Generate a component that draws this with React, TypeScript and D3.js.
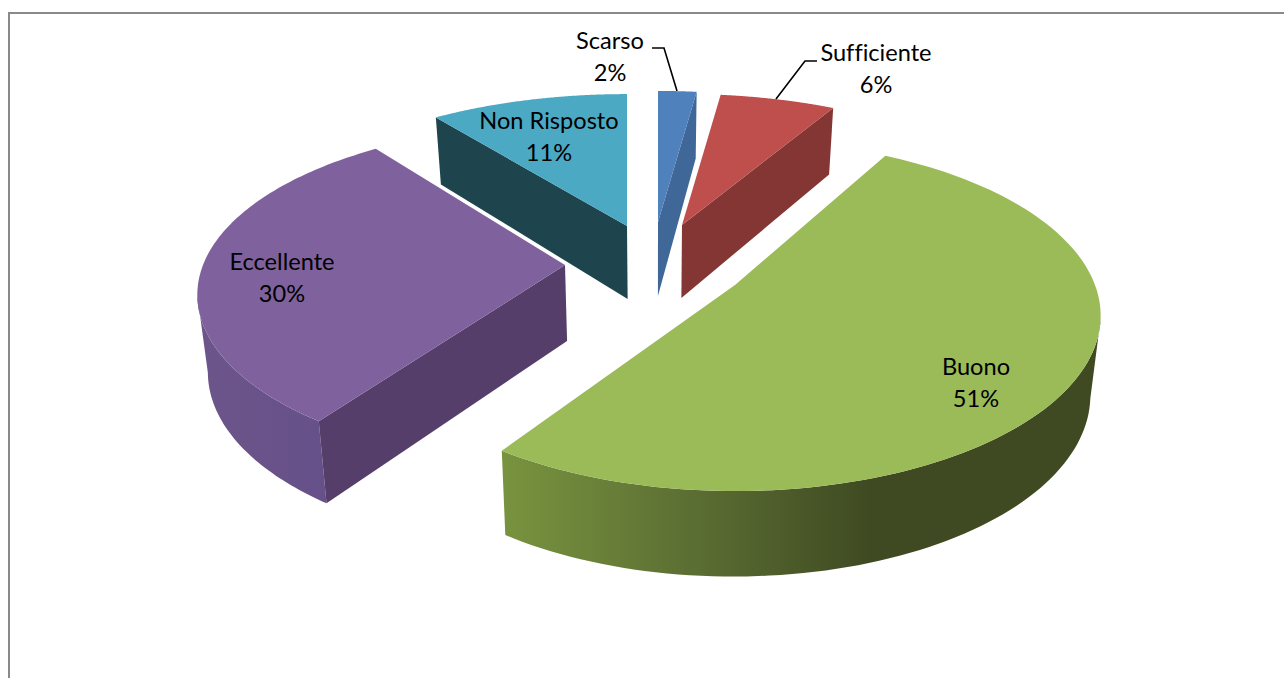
import React from "react";
import * as d3 from "d3";

const categories = ["Scarso", "Sufficiente", "Buono", "Eccellente", "Non Risposto"];
const percentages = [2, 6, 51, 30, 11];
const topColors = ["#4F81BD", "#BE4F4C", "#9BBB59", "#7F629D", "#4BA9C4"];
const faceColors = ["#3F6797", "#843634", "#3F4A22", "#553F6A", "#1E444E"];
const labelX = [610, 876, 976, 282, 549];
const labelY = [49, 61, 375, 270, 129];
const drawOrder = [4, 0, 1, 3, 2];

// layout of each exploded slice on the page
const apexX = [658, 682, 735, 565, 627];
const apexY = [222, 225, 285, 265, 226];
const radiusX = [362, 362, 360, 362, 362];
const radiusY = [154, 154, 170, 165, 155];
const depths = [74, 73, 78, 76, 73];
// perspective skew of the cut edges, in degrees
const startSkew = [0, 0, 0, 3.3, 2.6];
const endSkew = [0, 0, 1.2, 3, 0];

const W = 1284, H = 678;
const cx = 655, PERSP = 0.175, DEPTH_SLOPE = 7.5, SHRINK = 0.977;

type P = { x: number; y: number; depth: number };
const bottom = (p: P) => ({ x: cx + (p.x - cx) * SHRINK, y: p.y + p.depth, depth: p.depth });
const line = d3.line<{ x: number; y: number }>().x((d) => d.x).y((d) => d.y);
const closed = (pts: { x: number; y: number }[]) => line(pts) + "Z";

const arcs = d3.pie<number>().sort(null).value((d) => d)(percentages);

const slices = arcs.map((a, i) => {
  const a0 = a.startAngle + (startSkew[i] * Math.PI) / 180;
  const a1 = a.endAngle + (endSkew[i] * Math.PI) / 180;
  const mid = (a0 + a1) / 2;
  const at = (ang: number): P => {
    const s = Math.sin(ang), c = Math.cos(ang);
    const w = 1 + PERSP * c;
    return {
      x: apexX[i] + (radiusX[i] * s) / w,
      y: apexY[i] - (radiusY[i] * c) / w,
      depth: depths[i] - DEPTH_SLOPE * c,
    };
  };
  const apex: P = { x: apexX[i], y: apexY[i], depth: depths[i] };
  const angles = d3.range(0, 121).map((k) => a0 + ((a1 - a0) * k) / 120);
  const rim = angles.map(at);
  const top = closed([apex, ...rim]);
  const midPt = at(mid);
  const faceVisible = (R: P) => {
    const dx = R.x - apex.x;
    if (Math.abs(dx) < 2) return false;
    const yOnLine = apex.y + ((R.y - apex.y) * (midPt.x - apex.x)) / dx;
    return midPt.y < yOnLine;
  };
  const faces = [rim[0], rim[rim.length - 1]]
    .filter(faceVisible)
    .map((R) => closed([apex, R, bottom(R), bottom(apex)]));
  const front = angles.filter((ang) => Math.cos(ang) < -PERSP).map(at);
  const wall = front.length > 1 ? closed([...front, ...front.slice().reverse().map(bottom)]) : null;
  return { i, top, faces, wall };
});

export default function App() {
  return (
    <svg width={W} height={H} style={{ position: "absolute", left: 0, top: 0, display: "block", background: "#fff" }}>
      <defs>
        <linearGradient id="wall-2" gradientUnits="userSpaceOnUse" x1={505} x2={870} y1={0} y2={0}>
          <stop offset="0" stopColor="#78933F" />
          <stop offset="0.5" stopColor="#5C6F33" />
          <stop offset="1" stopColor="#3F4A22" />
        </linearGradient>
        <linearGradient id="wall-3" gradientUnits="userSpaceOnUse" x1={200} x2={330} y1={0} y2={0}>
          <stop offset="0" stopColor="#6C5589" />
          <stop offset="1" stopColor="#66508A" />
        </linearGradient>
      </defs>
      <path d={`M9 ${H}V13H${W}`} fill="none" stroke="#898989" strokeWidth={2} />
      {drawOrder.map((idx) => {
        const s = slices[idx];
        return (
          <g key={categories[idx]}>
            {s.wall && <path d={s.wall} fill={`url(#wall-${idx})`} />}
            {s.faces.map((d, k) => (
              <path key={k} d={d} fill={faceColors[idx]} />
            ))}
            <path d={s.top} fill={topColors[idx]} />
          </g>
        );
      })}
      <path d="M652 48H664L677 91" fill="none" stroke="#000" strokeWidth={1.6} />
      <path d="M817 61H805L776 99" fill="none" stroke="#000" strokeWidth={1.6} />
      {categories.map((c, i) => (
        <text key={c} textAnchor="middle" fontFamily="Lato" fontSize={23.6} fill="#000" style={{ fontVariantLigatures: "none" }}>
          <tspan x={labelX[i]} y={labelY[i]}>{c}</tspan>
          <tspan x={labelX[i]} y={labelY[i] + 32}>{percentages[i]}%</tspan>
        </text>
      ))}
    </svg>
  );
}
